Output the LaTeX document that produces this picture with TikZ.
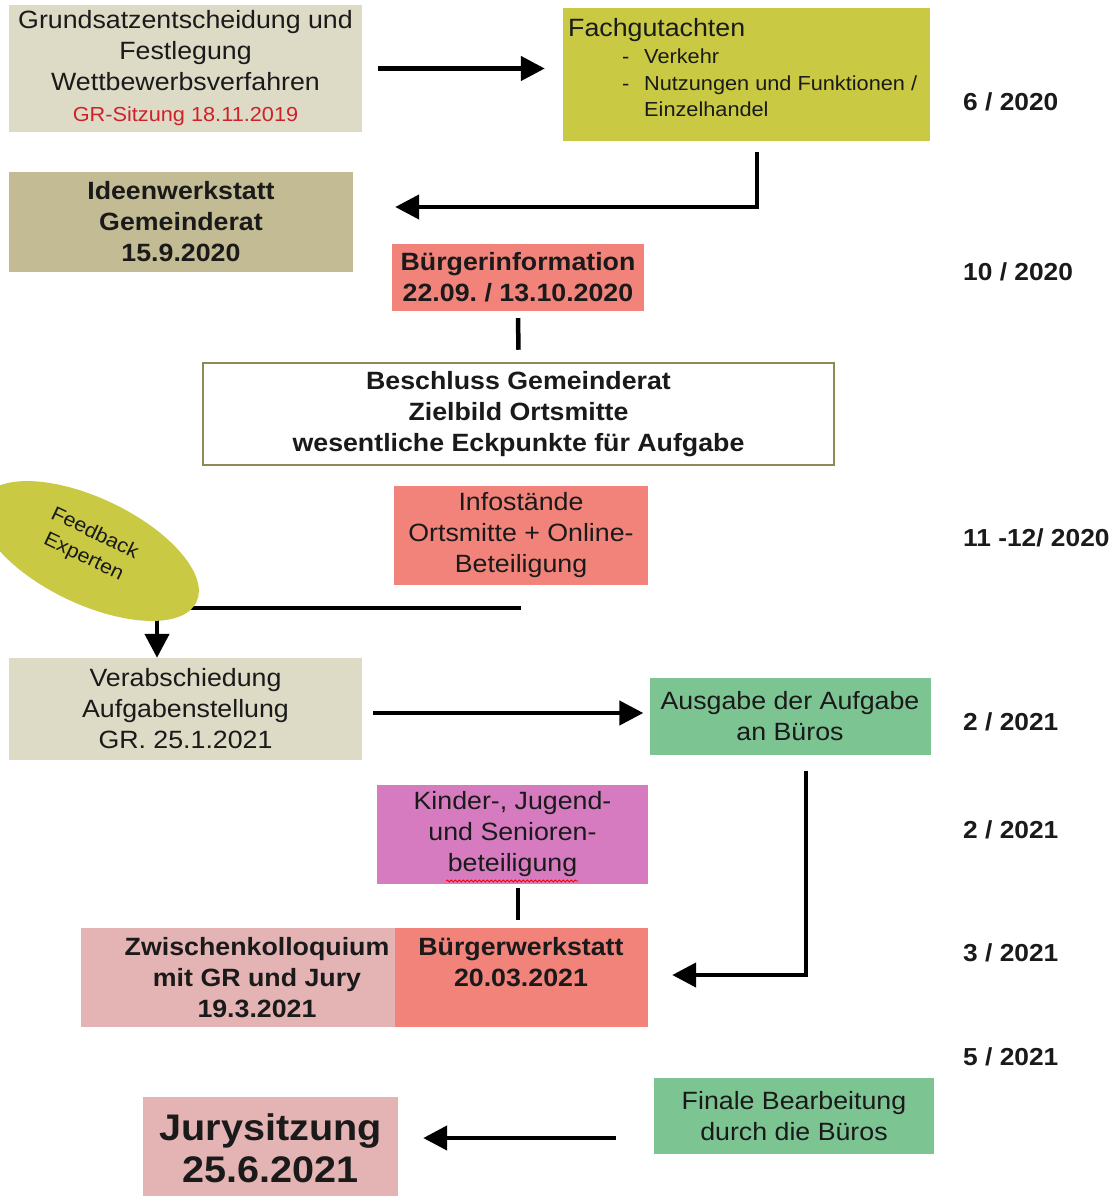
\documentclass[tikz,border=0pt]{standalone}
\usepackage{fontspec}
\setmainfont{Liberation Sans}[FakeStretch=1.07]
\usetikzlibrary{arrows.meta,shapes.geometric,decorations.pathmorphing}
\definecolor{beige}{HTML}{DDDAC6}
\definecolor{khaki}{HTML}{C3BB94}
\definecolor{olivebox}{HTML}{C9C944}
\definecolor{salmon}{HTML}{F1837B}
\definecolor{rimc}{HTML}{8E8A55}
\definecolor{greenbox}{HTML}{7DC493}
\definecolor{orchid}{HTML}{D67BBF}
\definecolor{rosy}{HTML}{E4B4B4}
\definecolor{redtext}{HTML}{D0202A}
\definecolor{ink}{HTML}{1A1A1A}
\newcommand\myfnorm{\fontsize{25}{31}\selectfont}
\newcommand\myfsmall{\fontsize{20.3}{26}\selectfont}
\frenchspacing
\begin{document}
\begin{tikzpicture}[x=1pt,y=-1pt,
  box/.style={rectangle, inner sep=0pt, align=center, text=ink, font=\myfnorm},
  bbox/.style={box, font=\myfnorm\bfseries},
  lbl/.style={inner sep=0pt, align=center, text=ink, font=\myfnorm},
  arr/.style={line width=4.5pt, -{Triangle[length=24pt,width=24pt]}},
  ln/.style={line width=4.5pt},
  date/.style={anchor=west, inner sep=0pt, font=\fontsize{24.6}{30}\selectfont\bfseries, text=ink},
]
\useasboundingbox (0,0) rectangle (1117,1196);

% boxes
\node[box, fill=beige, minimum width=353, minimum height=127] (gs) at (185.5,68.5)
  {Grundsatzentscheidung und\\Festlegung\\Wettbewerbsverfahren\\{\color{redtext}\myfsmall GR-Sitzung 18.11.2019}};
\node[box, fill=olivebox, minimum width=367, minimum height=133] (fg) at (746.5,74.5) {};
\node[lbl, anchor=north west, align=left, font=\myfsmall] (fgt) at (568,18)
  {{\myfnorm Fachgutachten}\\[1pt]
   \hspace*{54pt}\makebox[22pt][l]{-}Verkehr\\[1pt]
   \hspace*{54pt}\makebox[22pt][l]{-}Nutzungen und Funktionen /\\[0pt]
   \hspace*{76pt}Einzelhandel};
\node[bbox, fill=khaki, minimum width=344, minimum height=100] (iw) at (181,222)
  {Ideenwerkstatt\\Gemeinderat\\15.9.2020};
\node[bbox, fill=salmon, minimum width=252, minimum height=67] (bi) at (518,277.5)
  {Bürgerinformation\\22.09. / 13.10.2020};
\node[bbox, fill=white, draw=rimc, line width=2.5pt, minimum width=631, minimum height=102] (bs) at (518.5,414)
  {Beschluss Gemeinderat\\Zielbild Ortsmitte\\wesentliche Eckpunkte für Aufgabe};
\node[box, fill=salmon, minimum width=254, minimum height=99] (is) at (521,535.5)
  {Infostände\\Ortsmitte + Online-\\Beteiligung};

% feedback connectors (behind ellipse)
\coordinate (hl) at (150,608);
\draw[ln] (hl) -- (hl -| is.south);
\coordinate (fbdown) at (157,600);
\node[box, fill=beige, minimum width=353, minimum height=102] (ve) at (185.5,709)
  {Verabschiedung\\Aufgabenstellung\\GR. 25.1.2021};
\draw[arr] (fbdown) -- (fbdown |- ve.north);

\node[ellipse, fill=olivebox, inner sep=0pt, minimum width=237, minimum height=106, rotate=-25.5] (fb) at (89.5,551) {};
\node[lbl, rotate=-25.5, font=\fontsize{20}{26}\selectfont] (fbt) at (89,545.5) {Feedback\\Experten};

\node[box, fill=greenbox, minimum width=281, minimum height=77] (au) at (790,716)
  {Ausgabe der Aufgabe\\an Büros};
\node[box, fill=orchid, minimum width=271, minimum height=99] (kj) at (512.5,834.5)
  {Kinder-, Jugend-\\und Senioren-\\beteiligung};
\draw[red, line width=0.8pt, decorate, decoration={snake, amplitude=1pt, segment length=4pt}] (446,881) -- (578,881);

\node[box, fill=rosy, minimum width=314, minimum height=99] (zk) at (238,977.5) {};
\node[lbl, font=\myfnorm\bfseries] (zkt) at (257,978) {Zwischenkolloquium\\mit GR und Jury\\19.3.2021};
\node[box, fill=salmon, minimum width=253, minimum height=99] (bw) at (521.5,977.5) {};
\node[lbl, font=\myfnorm\bfseries] (bwt) at (521,962.5) {Bürgerwerkstatt\\20.03.2021};

\node[box, fill=greenbox, minimum width=280, minimum height=76] (fi) at (794,1116)
  {Finale Bearbeitung\\durch die Büros};
\node[box, fill=rosy, minimum width=255, minimum height=102, font=\fontsize{37}{42}\selectfont\bfseries] (ju) at (270.5,1148)
  {Jurysitzung\\25.6.2021};

% connectors
\draw[arr, shorten <=16pt, shorten >=18pt] (gs.east) -- (gs.east -| fg.west);
\draw[arr] ([xshift=10.5pt,yshift=-11pt]fg.south) |- ([xshift=42pt,yshift=15pt]iw.east);
\draw[ln] ([yshift=-7pt]bi.south) -- ([yshift=12pt]bs.north);
\draw[arr, shorten <=11pt, shorten >=6pt] ([yshift=-4pt]ve.east) -- ([yshift=-4pt]ve.east -| au.west);
\draw[arr] ([xshift=16pt,yshift=-16pt]au.south) |- ([xshift=24pt,yshift=2.5pt]bw.east);
\draw[ln] ([xshift=5.5pt,yshift=-4pt]kj.south) -- ([xshift=5.5pt,yshift=8pt]kj.south |- bw.north);
\draw[arr, shorten <=38pt, shorten >=25pt] ([yshift=-22pt]fi.west) -- ([yshift=-22pt]fi.west -| ju.east);

% dates
\node[date] (d1) at (963,102) {6 / 2020};
\node[date] (d2) at (963,272) {10 / 2020};
\node[date] (d3) at (963,538) {11 -12/ 2020};
\node[date] (d4) at (963,722) {2 / 2021};
\node[date] (d5) at (963,830) {2 / 2021};
\node[date] (d6) at (963,953) {3 / 2021};
\node[date] (d7) at (963,1057) {5 / 2021};
\end{tikzpicture}
\end{document}
